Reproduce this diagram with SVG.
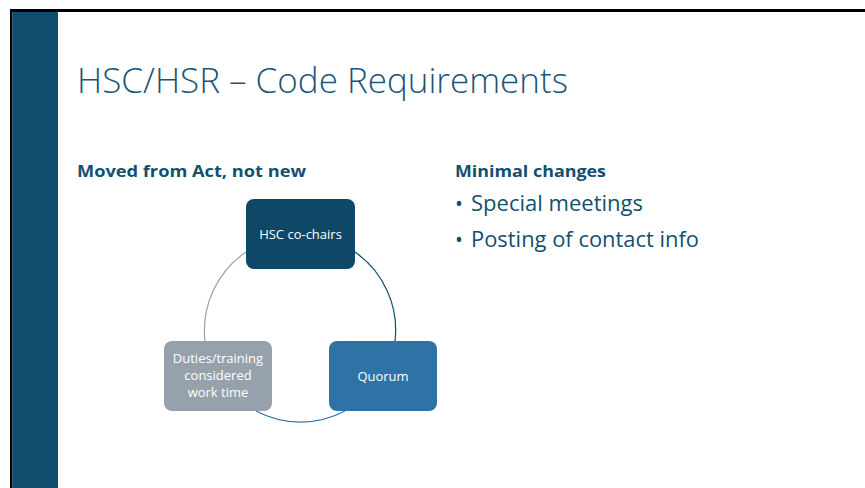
<svg xmlns="http://www.w3.org/2000/svg" width="865" height="488" viewBox="0 0 865 488">
<style>
.node text{font-family:"Open Sans","Liberation Sans",sans-serif;font-size:13px;fill:#ffffff;text-anchor:middle}
.h{font-family:"Open Sans","Liberation Sans",sans-serif;font-weight:bold;font-size:16px;fill:#13506f}
.b{font-family:"Open Sans","Liberation Sans",sans-serif;font-size:21px;fill:#13506f}
.arc{fill:none;stroke-width:1.2}
</style>
<rect x="0" y="0" width="865" height="488" fill="#ffffff"/>
<rect x="10" y="9" width="855" height="3" fill="#000000"/>
<rect x="10" y="9" width="2.5" height="479" fill="#000000"/>
<rect x="12.5" y="12" width="45.5" height="476" fill="#0f4c6e"/>
<text x="77" y="93" font-family="Open Sans, Liberation Sans, sans-serif" font-weight="300" font-size="35" fill="#1a5678" textLength="491" lengthAdjust="spacingAndGlyphs">HSC/HSR – Code Requirements</text>
<text class="h" x="77" y="177" textLength="229" lengthAdjust="spacingAndGlyphs">Moved from Act, not new</text>
<text class="h" x="455" y="177" textLength="151" lengthAdjust="spacingAndGlyphs">Minimal changes</text>
<text class="b" x="455" y="211">•</text>
<text class="b" x="471" y="211" textLength="172" lengthAdjust="spacingAndGlyphs">Special meetings</text>
<text class="b" x="455" y="247">•</text>
<text class="b" x="471" y="247" textLength="228" lengthAdjust="spacingAndGlyphs">Posting of contact info</text>
<g id="connectors">
<path class="arc" stroke="#134f6e" d="M355 252 A95 95 0 0 1 395 341"/>
<path class="arc" stroke="#2e73a6" d="M256 411 A95 95 0 0 0 345 411"/>
<path class="arc" stroke="#97a1ad" d="M205 341 A95 95 0 0 1 246 252"/>
</g>
<g id="node-hsc" class="node">
<rect x="246" y="199" width="109" height="70" rx="8" fill="#0f4866"/>
<text x="300.5" y="239">HSC co-chairs</text>
</g>
<g id="node-quorum" class="node">
<rect x="329" y="341" width="108" height="70" rx="8" fill="#2e73a6"/>
<text x="383" y="381">Quorum</text>
</g>
<g id="node-duties" class="node">
<rect x="164" y="341" width="108" height="70" rx="8" fill="#97a1ad"/>
<text x="218" y="363">Duties/training</text>
<text x="218" y="380">considered</text>
<text x="218" y="397">work time</text>
</g>
</svg>
